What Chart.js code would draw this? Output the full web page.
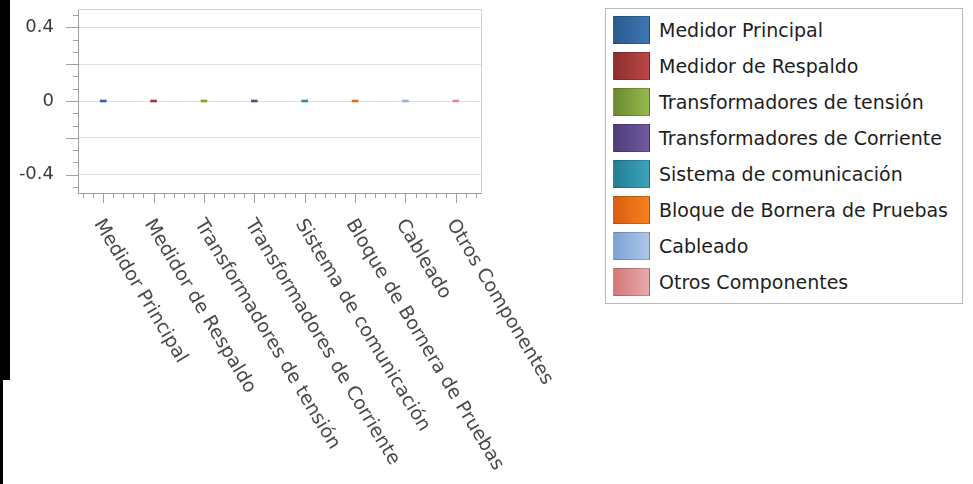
<!DOCTYPE html>
<html>
<head>
<meta charset="utf-8">
<script src="https://cdn.jsdelivr.net/npm/chart.js@4.4.0/dist/chart.umd.min.js"></script>
<style>
  html, body { margin: 0; padding: 0; background: #fff; }
  body { width: 973px; height: 484px; position: relative; overflow: hidden; font-family: "DejaVu Sans", sans-serif; }
  #strip1 { position: absolute; left: 0; top: 0; width: 10px; height: 380px; background: #000; }
  #strip2 { position: absolute; left: 0; top: 380px; width: 3px; height: 104px; background: #000; }
  #wrap { position: absolute; left: 0; top: 0; width: 590px; height: 484px; }
  #legend { position: absolute; left: 605px; top: 8px; width: 358px; height: 296px; box-sizing: border-box; border: 1px solid #b8b8b8; background: #fff; }
  .item { position: absolute; left: 7px; height: 28px; }
  .sw { position: absolute; left: 0; top: 0; width: 37px; height: 28px; box-sizing: border-box; border: 1px solid rgba(0,0,0,0.18); }
  .lt { position: absolute; left: 46px; top: 0; line-height: 28px; font-size: 19px; color: #1e1e1e; white-space: nowrap; }
</style>
</head>
<body>
<div id="strip1"></div><div id="strip2"></div>
<div id="wrap"><canvas id="c" width="590" height="484"></canvas></div>
<div id="legend"></div>
<script>
// ---- data ----
const categories = ["Medidor Principal", "Medidor de Respaldo", "Transformadores de tensión", "Transformadores de Corriente", "Sistema de comunicación", "Bloque de Bornera de Pruebas", "Cableado", "Otros Componentes"];
const seriesNames = categories.slice();
const seriesValues = [0, 0, 0, 0, 0, 0, 0, 0];
const yGridValues = [-0.4, -0.2, 0, 0.2, 0.4];
const yLabelValues = [-0.4, 0, 0.4];
const yTickLabels = ["-0.4", "0", "0.4"];
const seriesColors = ["#33659e", "#a33b3b", "#7fa23c", "#5e4a8c", "#2f8fa8", "#e86e16", "#93b4de", "#dc9090"];
const swatchDark = ["#2b5a8e", "#8e2f2f", "#6b8a2e", "#4f3d78", "#237f96", "#d9600f", "#7ea3d6", "#d47878"];
const swatchLight = ["#3e76b5", "#bb4646", "#95ba4c", "#7059a3", "#3ca3bb", "#f7801f", "#adc7e8", "#e8abab"];

// ---- legend (HTML) ----
const lg = document.getElementById('legend');
seriesNames.forEach((n, i) => {
  const it = document.createElement('div');
  it.className = 'item';
  it.style.top = (7 + i * 36) + 'px';
  const sw = document.createElement('div');
  sw.className = 'sw';
  sw.style.background = 'linear-gradient(to right,' + swatchDark[i] + ',' + swatchLight[i] + ')';
  const t = document.createElement('div');
  t.className = 'lt';
  t.textContent = n;
  it.appendChild(sw); it.appendChild(t);
  lg.appendChild(it);
});

// ---- chart ----
Chart.defaults.font.family = '"DejaVu Sans", sans-serif';
const datasets = seriesNames.map((n, i) => ({
  label: n,
  data: categories.map((c, j) => (j === i ? seriesValues[i] : null)),
  backgroundColor: seriesColors[i],
  borderWidth: 0,
  barThickness: 6,
  minBarLength: 2,
  skipNull: true
}));

const axisColor = '#a0a0a0';
const decor = {
  id: 'decor',
  afterDraw(chart) {
    const ctx = chart.ctx;
    const ca = chart.chartArea;
    const xs = chart.scales.x, ys = chart.scales.y;
    ctx.save();
    // frame top/right
    ctx.strokeStyle = '#d0d0d0';
    ctx.lineWidth = 1;
    ctx.beginPath();
    ctx.moveTo(ca.left, Math.round(ca.top) + 0.5);
    ctx.lineTo(Math.round(ca.right) + 0.5, Math.round(ca.top) + 0.5);
    ctx.lineTo(Math.round(ca.right) + 0.5, ca.bottom);
    ctx.stroke();
    // y ticks
    ctx.strokeStyle = axisColor;
    ctx.beginPath();
    const step = 0.2 / 3;
    for (let k = -7; k <= 7; k++) {
      const v = k * step;
      const y = Math.round(ys.getPixelForValue(v)) + 0.5;
      const major = (k % 3 === 0);
      ctx.moveTo(ca.left - (major ? 12 : 5), y);
      ctx.lineTo(ca.left, y);
    }
    // x ticks
    const cw = xs.getPixelForValue(1) - xs.getPixelForValue(0);
    for (let i = 0; i < categories.length; i++) {
      const cx = xs.getPixelForValue(i);
      for (let k = -2; k <= 2; k++) {
        const x = Math.round(cx + k * cw / 5) + 0.5;
        ctx.moveTo(x, ca.bottom);
        ctx.lineTo(x, ca.bottom + (k === 0 ? 10 : 5));
      }
    }
    ctx.stroke();
    // rotated x labels
    ctx.fillStyle = '#4a4a4a';
    ctx.font = '19px "DejaVu Sans", sans-serif';
    ctx.textAlign = 'left';
    ctx.textBaseline = 'top';
    const ang = 59 * Math.PI / 180;
    categories.forEach((c, i) => {
      const cx = xs.getPixelForValue(i);
      ctx.save();
      ctx.translate(cx + 3, ca.bottom + 23);
      ctx.rotate(ang);
      ctx.fillText(c, 0, 0);
      ctx.restore();
    });
    ctx.restore();
  }
};

new Chart(document.getElementById('c'), {
  type: 'bar',
  data: { labels: categories, datasets },
  options: {
    responsive: false,
    animation: false,
    layout: { padding: { left: 0, top: 9, right: 109, bottom: 0 } },
    plugins: { legend: { display: false }, tooltip: { enabled: false } },
    scales: {
      x: {
        type: 'category',
        offset: true,
        grid: { display: false },
        border: { color: axisColor },
        ticks: { display: false },
        afterFit(s) { s.height = 291; s.paddingLeft = 0; s.paddingRight = 0; }
      },
      y: {
        min: -0.5, max: 0.5,
        afterBuildTicks(s) { s.ticks = yGridValues.map(v => ({ value: v })); },
        grid: { color: '#dedede', drawTicks: false },
        border: { color: axisColor },
        ticks: {
          padding: 24,
          color: '#3c3c3c',
          font: { size: 18 },
          callback(v) {
            const idx = yLabelValues.findIndex(t => Math.abs(t - v) < 1e-9);
            return idx >= 0 ? yTickLabels[idx] : '';
          }
        },
        afterFit(s) { s.width = 78; s.paddingTop = 0; s.paddingBottom = 0; }
      }
    }
  },
  plugins: [decor]
});
</script>
</body>
</html>
